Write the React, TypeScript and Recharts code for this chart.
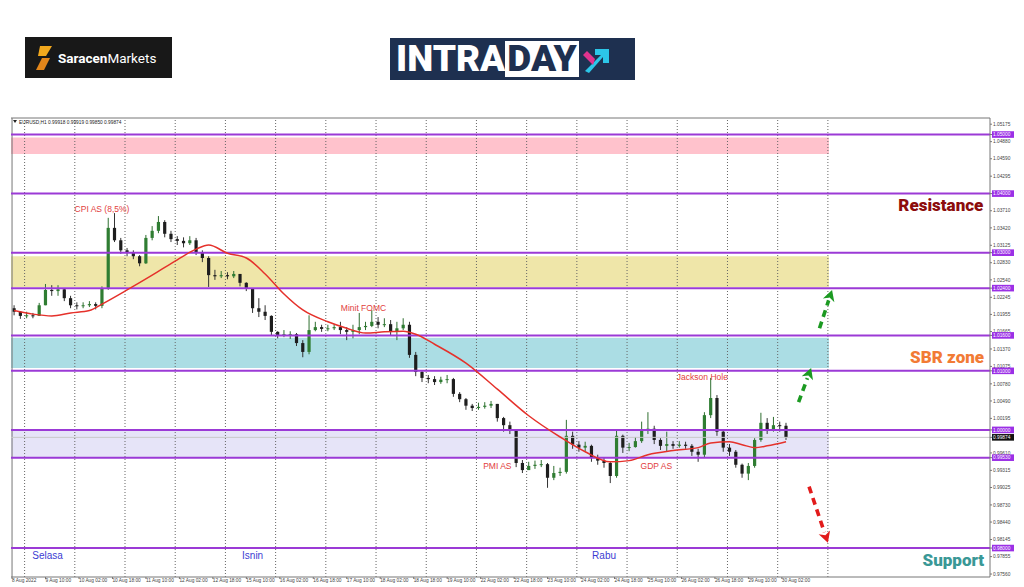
import {
  ComposedChart,
  Bar,
  Line,
  XAxis,
  YAxis,
  ReferenceLine,
  ReferenceArea,
  ReferenceDot,
} from 'recharts';

const firstOpen = 1.0206;
const closes = [
  1.0200, 1.0193, 1.0194, 1.0193, 1.0211, 1.0237, 1.0235, 1.0238, 1.0223, 1.0211,
  1.0210, 1.0211, 1.0213, 1.0210, 1.0240, 1.0342, 1.0321, 1.0304, 1.0301, 1.0294,
  1.0282, 1.0325, 1.0337, 1.0352, 1.0332, 1.0323, 1.0320, 1.0316, 1.0321, 1.0301,
  1.0291, 1.0262, 1.0260, 1.0262, 1.0260, 1.0264, 1.0249, 1.0240, 1.0206, 1.0200,
  1.0193, 1.0166, 1.0160, 1.0162, 1.0162, 1.0147, 1.0132, 1.0169, 1.0174, 1.0171,
  1.0172, 1.0174, 1.0169, 1.0166, 1.0169, 1.0174, 1.0176, 1.0183, 1.0178, 1.0179,
  1.0166, 1.0172, 1.0178, 1.0127, 1.0098, 1.0088, 1.0086, 1.0081, 1.0085, 1.0086,
  1.0061, 1.0052, 1.0041, 1.0037, 1.0039, 1.0041, 1.0044, 1.0020, 1.0008, 1.0000,
  0.9944, 0.9932, 0.9939, 0.9941, 0.9942, 0.9919, 0.9927, 0.9929, 0.9990, 0.9975,
  0.9970, 0.9973, 0.9953, 0.9948, 0.9944, 0.9922, 0.9990, 0.9970, 0.9971, 0.9981,
  1.0000, 1.0002, 0.9983, 0.9973, 0.9976, 0.9973, 0.9975, 0.9973, 0.9963, 0.9958,
  1.0025, 1.0054, 0.9997, 0.9970, 0.9963, 0.9941, 0.9926, 0.9939, 0.9983, 1.0012,
  1.0000, 1.0008, 1.0007, 0.99874,
];
const highs = [
  1.0211, 1.0201, 1.0200, 1.0198, 1.0215, 1.0247, 1.0245, 1.0245, 1.0240, 1.0227,
  1.0216, 1.0216, 1.0218, 1.0216, 1.0243, 1.0359, 1.0367, 1.0325, 1.0308, 1.0304,
  1.0296, 1.0330, 1.0345, 1.0362, 1.0355, 1.0337, 1.0328, 1.0326, 1.0328, 1.0325,
  1.0304, 1.0294, 1.0271, 1.0269, 1.0267, 1.0269, 1.0264, 1.0250, 1.0240, 1.0223,
  1.0211, 1.0194, 1.0167, 1.0169, 1.0167, 1.0164, 1.0152, 1.0194, 1.0183, 1.0178,
  1.0178, 1.0179, 1.0183, 1.0174, 1.0178, 1.0198, 1.0183, 1.0203, 1.0191, 1.0189,
  1.0186, 1.0183, 1.0189, 1.0183, 1.0132, 1.0101, 1.0093, 1.0091, 1.0090, 1.0093,
  1.0088, 1.0064, 1.0054, 1.0044, 1.0046, 1.0047, 1.0049, 1.0044, 1.0022, 1.0014,
  1.0000, 0.9949, 0.9946, 0.9948, 0.9949, 0.9944, 0.9939, 0.9936, 1.0017, 0.9997,
  0.9981, 0.9980, 0.9975, 0.9958, 0.9954, 0.9946, 1.0000, 0.9992, 0.9978, 0.9988,
  1.0014, 1.0030, 1.0007, 0.9986, 0.9997, 0.9981, 0.9981, 0.9980, 0.9976, 0.9968,
  1.0030, 1.0088, 1.0059, 1.0000, 0.9976, 0.9966, 0.9943, 0.9944, 0.9986, 1.0029,
  1.0020, 1.0022, 1.0014, 1.0012,
];
const lows = [
  1.0194, 1.0188, 1.0189, 1.0189, 1.0193, 1.0211, 1.0227, 1.0227, 1.0218, 1.0206,
  1.0204, 1.0206, 1.0208, 1.0204, 1.0206, 1.0237, 1.0318, 1.0298, 1.0294, 1.0289,
  1.0277, 1.0281, 1.0321, 1.0333, 1.0326, 1.0318, 1.0313, 1.0309, 1.0313, 1.0296,
  1.0284, 1.0242, 1.0254, 1.0257, 1.0255, 1.0257, 1.0243, 1.0235, 1.0198, 1.0191,
  1.0186, 1.0160, 1.0155, 1.0157, 1.0154, 1.0142, 1.0123, 1.0128, 1.0167, 1.0166,
  1.0167, 1.0169, 1.0162, 1.0152, 1.0155, 1.0162, 1.0169, 1.0174, 1.0172, 1.0174,
  1.0159, 1.0152, 1.0169, 1.0122, 1.0091, 1.0081, 1.0079, 1.0076, 1.0078, 1.0079,
  1.0056, 1.0047, 1.0034, 1.0032, 1.0034, 1.0036, 1.0037, 1.0014, 0.9997, 0.9993,
  0.9937, 0.9927, 0.9932, 0.9934, 0.9937, 0.9902, 0.9915, 0.9922, 0.9926, 0.9968,
  0.9963, 0.9964, 0.9946, 0.9941, 0.9936, 0.9910, 0.9919, 0.9961, 0.9964, 0.9970,
  0.9978, 0.9993, 0.9976, 0.9966, 0.9963, 0.9968, 0.9970, 0.9968, 0.9956, 0.9946,
  0.9953, 1.0020, 0.9990, 0.9963, 0.9956, 0.9936, 0.9919, 0.9915, 0.9936, 0.9980,
  0.9993, 0.9997, 0.9997, 0.9983,
];

// red moving average, read at a few candles
const maSlots = [0, 3, 6, 9, 12, 14, 18, 22, 26, 29, 31, 34, 37, 40, 43, 46, 50, 53, 56, 59, 62, 64, 67, 72, 77, 82, 87, 91, 95, 98, 101, 105, 109, 111, 114, 116, 118, 120, 123];
const maValues = [1.0202, 1.0196, 1.0193, 1.0198, 1.0202, 1.0213, 1.0237, 1.0262, 1.0288, 1.0306, 1.0313, 1.0299, 1.0291, 1.0264, 1.0230, 1.0203, 1.0183, 1.0172, 1.0164, 1.0166, 1.0167, 1.0162, 1.0145, 1.0113, 1.0069, 1.0024, 0.9988, 0.9963, 0.9946, 0.9948, 0.9958, 0.9965, 0.9970, 0.9978, 0.9980, 0.9975, 0.9970, 0.9973, 0.9980];

const lastPrice = 0.99874;
const levels = [1.05, 1.04, 1.03, 1.024, 1.016, 1.01, 1.0, 0.9953, 0.98];
const zoneTops = [1.0495, 1.0294, 1.0156, 1.0];
const zoneBottoms = [1.0467, 1.0242, 1.0105, 0.9953];
const zoneColors = ['#ffc2cc', '#efe6a9', '#abdde4', '#e6e4f8'];

const yTicks = [1.05175, 1.0488, 1.0459, 1.04295, 1.0371, 1.0342, 1.03125, 1.0283, 1.0254, 1.02245, 1.01955, 1.01665, 1.0137, 1.01075, 1.0078, 1.0049, 1.00195, 0.9961, 0.99315, 0.99025, 0.9873, 0.9844, 0.98145, 0.97855, 0.9756];
const xTickHours = [0, 16, 32, 48, 64, 80, 96, 112, 128, 144, 160, 176, 192, 208, 224, 240, 256, 272, 288, 304, 320, 336, 352, 368];
const xTickLabels = ['8 Aug 2022', '9 Aug 10:00', '10 Aug 02:00', '10 Aug 18:00', '11 Aug 10:00', '12 Aug 02:00', '12 Aug 18:00', '15 Aug 10:00', '16 Aug 02:00', '16 Aug 18:00', '17 Aug 10:00', '18 Aug 02:00', '18 Aug 18:00', '19 Aug 10:00', '22 Aug 02:00', '22 Aug 18:00', '23 Aug 10:00', '24 Aug 02:00', '24 Aug 18:00', '25 Aug 10:00', '26 Aug 02:00', '26 Aug 18:00', '29 Aug 10:00', '30 Aug 02:00'];
const daySeparators = [6, 30, 54, 78, 102, 126, 150, 174, 198, 222, 246, 270, 294, 318, 342, 366, 390];

const font = "'Liberation Sans', Arial, sans-serif";
const yMin = 0.9751;
const yMax = 1.0528;
const hoursShown = 468;

// one row per hour of the window; a 3-hour candle sits in the middle hour of its block
const data = Array.from({ length: hoursShown }, (_, h) => {
  const row: any = { hour: h };
  if (h % 3 === 1) {
    const i = (h - 1) / 3;
    if (i < closes.length) {
      // open of each candle is the previous close
      row.open = i === 0 ? firstOpen : closes[i - 1];
      row.close = closes[i];
      row.high = highs[i];
      row.low = lows[i];
      row.range = [lows[i], highs[i]];
    }
    const m = maSlots.indexOf(i);
    if (m >= 0) row.ma = maValues[m];
  }
  return row;
});

const notes = [
  { text: 'CPI AS (8,5%)', x: 43, y: 1.0374, size: 8.5, color: '#e2403c', weight: 400 },
  { text: 'Minit FOMC', x: 168, y: 1.0207, size: 8.5, color: '#e2403c', weight: 400 },
  { text: 'Jackson Hole', x: 330, y: 1.009, size: 8.5, color: '#e2403c', weight: 400 },
  { text: 'PMI AS', x: 232, y: 0.9939, size: 8.5, color: '#e2403c', weight: 400 },
  { text: 'GDP AS', x: 308, y: 0.9939, size: 8.5, color: '#e2403c', weight: 400 },
  { text: 'Resistance', x: 444, y: 1.038, size: 17, color: '#8c0c0c', weight: 900 },
  { text: 'SBR zone', x: 447, y: 1.0123, size: 17, color: '#f27b35', weight: 900 },
  { text: 'Support', x: 450, y: 0.978, size: 17, color: '#3a9896', weight: 900 },
  { text: 'Selasa', x: 17, y: 0.9787, size: 10, color: '#3c3cd2', weight: 400 },
  { text: 'Isnin', x: 115, y: 0.9787, size: 10, color: '#3c3cd2', weight: 400 },
  { text: 'Rabu', x: 283, y: 0.9787, size: 10, color: '#3c3cd2', weight: 400 },
];

const arrows = [
  { from: [386, 1.0172], to: [392, 1.0237], color: '#1c9a22' },
  { from: [376, 1.0047], to: [382, 1.0105], color: '#1c9a22' },
  { from: [381, 0.9904], to: [390, 0.9809], color: '#e21b1b' },
];

function Candle(props: any) {
  const { x, y, width, height, payload } = props;
  if (!payload || payload.close == null || !isFinite(y)) return <g />;
  const { open, close, high, low } = payload;
  const top = Math.min(y, y + height);
  const h = Math.abs(height);
  const cx = x + width / 2;
  const py = (v: number) => top + ((high - v) / (high - low || 1)) * h;
  const up = close >= open;
  const bodyTop = py(Math.max(open, close));
  const bodyH = Math.max(1, py(Math.min(open, close)) - bodyTop);
  const col = up ? '#2f7d32' : '#1e1e1e';
  return (
    <g>
      <line x1={cx} x2={cx} y1={top} y2={top + h} stroke={up ? '#2f6f30' : '#333'} strokeWidth={1} />
      <rect x={cx - 1.6} y={bodyTop} width={3.2} height={bodyH} fill={col} />
    </g>
  );
}

function YTick(props: any) {
  const { x, y, payload } = props;
  const v = payload.value as number;
  const txt = v.toFixed(5);
  const boxed = levels.includes(v) || v === lastPrice;
  return (
    <g>
      {boxed && (
        <rect x={x - 1} y={y - 3.3} width={22} height={6.6} fill={v === lastPrice ? '#111' : '#9b30e6'} />
      )}
      <text x={x} y={y + 1.7} fontSize={4.8} fill={boxed ? '#fff' : '#444'} fontFamily={font}>
        {txt}
      </text>
    </g>
  );
}

function XTick(props: any) {
  const { x, y, payload } = props;
  const i = xTickHours.indexOf(Number(payload.value));
  return (
    <text x={x} y={y + 3} fontSize={4.8} fill="#444" fontFamily={font}>
      {xTickLabels[i]}
    </text>
  );
}

function noteShape(n: any) {
  return (p: any) => (
    <text
      x={p.cx}
      y={p.cy}
      textAnchor="middle"
      dominantBaseline="central"
      fontSize={n.size}
      fontWeight={n.weight}
      fill={n.color}
      fontFamily={n.weight > 400 ? "Roboto, 'Liberation Sans', sans-serif" : font}
    >
      {n.text}
    </text>
  );
}

function arrowShape(color: string) {
  return (p: any) => {
    const { x1, y1, x2, y2 } = p;
    const dx = x2 - x1;
    const dy = y2 - y1;
    const len = Math.hypot(dx, dy) || 1;
    const ux = dx / len;
    const uy = dy / len;
    const bx = x2 - ux * 11;
    const by = y2 - uy * 11;
    const nx = -uy;
    const ny = ux;
    return (
      <g>
        <line x1={x1} y1={y1} x2={bx} y2={by} stroke={color} strokeWidth={3.6} strokeDasharray="7 5" />
        <polygon
          points={`${x2},${y2} ${bx + nx * 6},${by + ny * 6} ${bx + ux * 3},${by + uy * 3} ${bx - nx * 6},${by - ny * 6}`}
          fill={color}
        />
      </g>
    );
  };
}

export default function App() {
  return (
    <div style={{ position: 'absolute', left: 0, top: 0, width: 1024, height: 587, background: '#fff', overflow: 'hidden', fontFamily: font }}>
      <ComposedChart
        width={1024}
        height={587}
        data={data}
        margin={{ top: 118, left: 11, right: 0, bottom: 0 }}
        barCategoryGap={0}
      >
        <XAxis
          dataKey="hour"
          type="category"
          ticks={xTickHours}
          interval={0}
          tick={<XTick />}
          tickSize={2}
          tickMargin={0}
          height={10}
          axisLine={{ stroke: '#777' }}
          tickLine={{ stroke: '#777' }}
        />
        <YAxis
          orientation="right"
          type="number"
          domain={[yMin, yMax]}
          ticks={[...yTicks, ...levels, lastPrice]}
          interval={0}
          tick={<YTick />}
          width={34}
          tickSize={2}
          tickMargin={1}
          axisLine={{ stroke: '#777' }}
          tickLine={{ stroke: '#777' }}
          allowDataOverflow
        />
        {zoneTops.map((t, i) => (
          <ReferenceArea key={'z' + i} x1={0} x2={390} y1={zoneBottoms[i]} y2={t} fill={zoneColors[i]} fillOpacity={1} stroke="none" />
        ))}
        {daySeparators.map((h) => (
          <ReferenceLine key={'d' + h} x={h} stroke="#666" strokeDasharray="1 2" />
        ))}
        <ReferenceLine x={0} stroke="#777" />
        <ReferenceLine y={yMax} stroke="#777" />
        {levels.map((v) => (
          <ReferenceLine key={'l' + v} y={v} stroke="#9b3ad6" strokeWidth={2} />
        ))}
        <ReferenceLine y={lastPrice} stroke="#c8c8c8" strokeWidth={1} />
        <Bar dataKey="range" shape={Candle} isAnimationActive={false} />
        <Line
          dataKey="ma"
          type="monotone"
          stroke="#e5312b"
          strokeWidth={1.5}
          dot={false}
          connectNulls
          isAnimationActive={false}
        />
        {notes.map((n) => (
          <ReferenceDot key={n.text} x={n.x} y={n.y} r={1} shape={noteShape(n)} />
        ))}
        {arrows.map((a, i) => (
          <ReferenceLine
            key={'a' + i}
            segment={[{ x: a.from[0], y: a.from[1] }, { x: a.to[0], y: a.to[1] }]}
            shape={arrowShape(a.color)}
          />
        ))}
      </ComposedChart>

      <svg style={{ position: 'absolute', left: 0, top: 0 }} width={200} height={130}>
        <polygon points="13,120 17,120 15,123" fill="#222" />
        <text x={19} y={123.5} fontSize={4.8} fill="#222" fontFamily={font}>
          EURUSD,H1  0.99918 0.99919 0.99850 0.99874
        </text>
      </svg>

      <div style={{ position: 'absolute', left: 25, top: 37, width: 147, height: 41, background: '#181818', display: 'flex', alignItems: 'center' }}>
        <svg width={20} height={28} style={{ marginLeft: 9 }}>
          <polygon points="6,2 18,2 12,12 4,12" fill="#f2a81d" />
          <polygon points="8,14 16,14 10,26 2,26" fill="#e3861a" />
        </svg>
        <span style={{ color: '#fff', fontSize: 13.5, fontFamily: 'Roboto, sans-serif', marginLeft: 4 }}>
          <b>Saracen</b>Markets
        </span>
      </div>

      <div style={{ position: 'absolute', left: 390, top: 38, width: 245, height: 42, background: '#1e3050', display: 'flex', alignItems: 'center' }}>
        <span style={{ color: '#fff', fontWeight: 900, fontSize: 37, fontFamily: 'Roboto, sans-serif', marginLeft: 6, lineHeight: '42px' }}>INTRA</span>
        <span style={{ color: '#1e3050', background: '#fff', fontWeight: 900, fontSize: 37, fontFamily: 'Roboto, sans-serif', lineHeight: '36px', padding: '0 2px' }}>DAY</span>
        <svg width={34} height={36} style={{ marginLeft: 2 }}>
          <polygon points="4,30 20,14 14,14 14,8 28,8 28,22 22,22 22,16 8,32" fill="#2cc6e8" />
          <polygon points="6,10 14,18 12,24 2,14" fill="#e0338e" />
        </svg>
      </div>
    </div>
  );
}
